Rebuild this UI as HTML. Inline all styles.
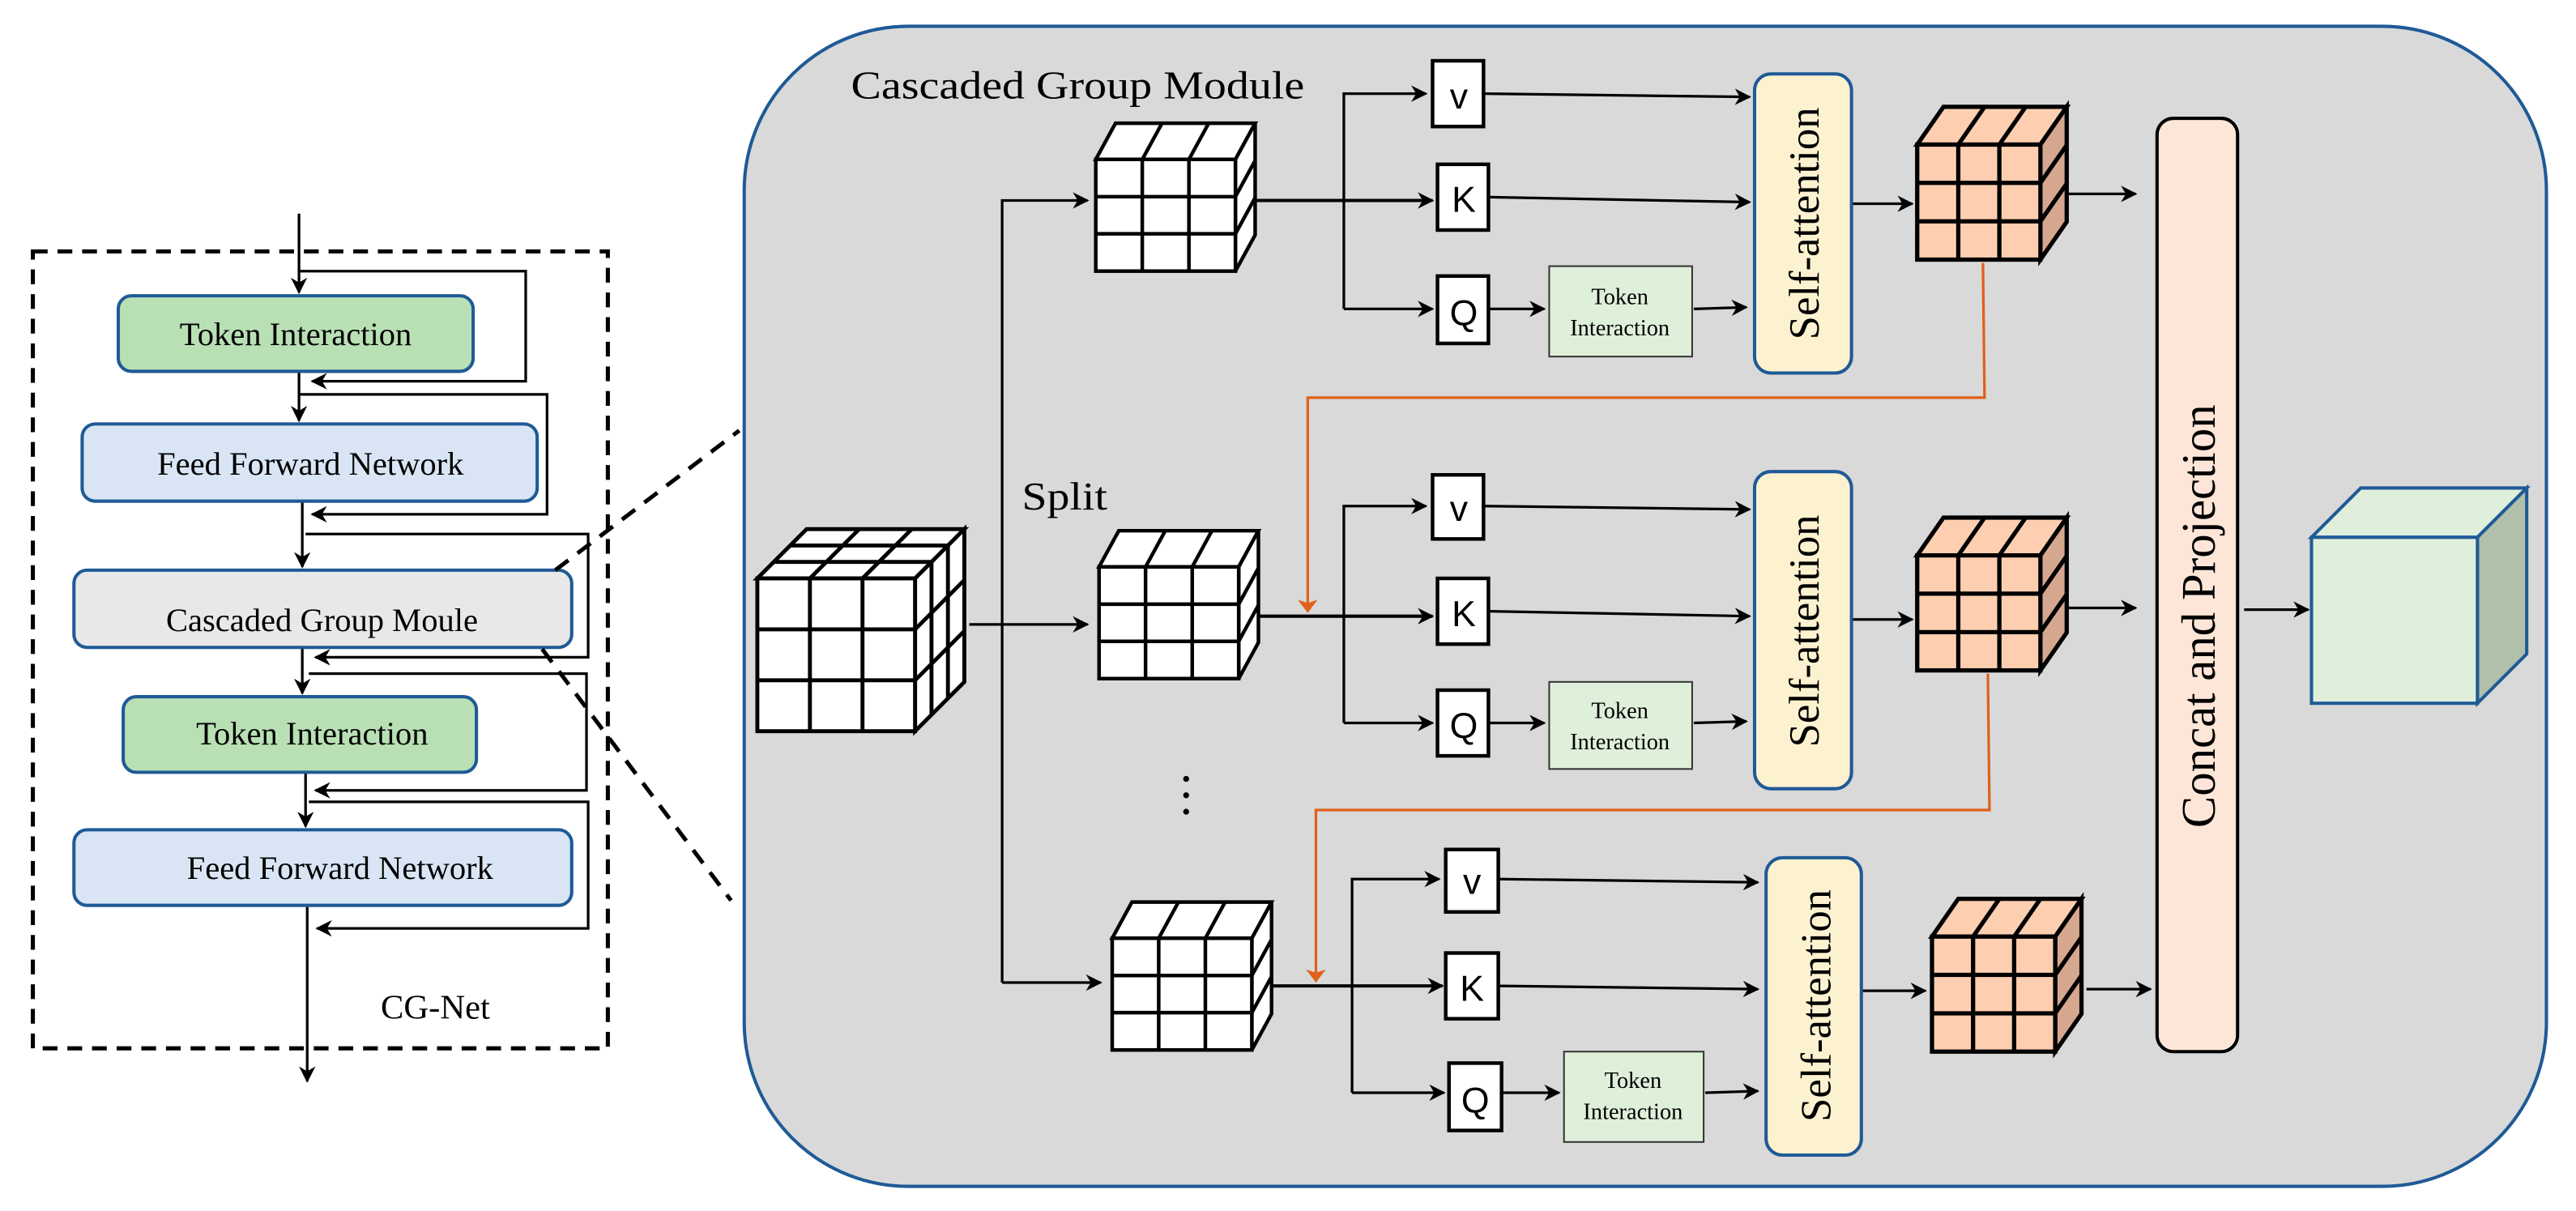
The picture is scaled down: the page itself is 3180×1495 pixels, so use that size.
<!DOCTYPE html>
<html><head><meta charset="utf-8"><style>
html,body{margin:0;padding:0;background:#fff}
svg{display:block}
.s{font-family:"Liberation Serif","Times New Roman",serif}
.ss{font-family:"Liberation Sans",Arial,sans-serif}
</style></head><body>
<svg width="3180" height="1495" viewBox="0 0 1568 737" preserveAspectRatio="none" xmlns="http://www.w3.org/2000/svg" font-family="Liberation Serif, serif">
<defs>
<marker id="a" markerWidth="10" markerHeight="10" refX="9" refY="5" orient="auto" markerUnits="userSpaceOnUse"><path d="M0,0 L10,5 L0,10 L3,5 z" fill="#000"/></marker>
<marker id="ao" markerWidth="8" markerHeight="12" refX="7" refY="6" orient="auto" markerUnits="userSpaceOnUse"><path d="M0,0 L8,6 L0,12 L2,6 z" fill="#e0601a"/></marker>
<g id="wc" stroke="#000" stroke-width="2.2" fill="#fff">
<polygon points="0,0 12,-22 97,-22 85,0"/>
<polygon points="85,0 97,-22 97,46 85,68"/>
<rect x="0" y="0" width="85" height="68"/>
<path d="M28.3,0V68M56.7,0V68M0,22.7H85M0,45.3H85M28.3,0L40.3,-22M56.7,0L68.7,-22M85,22.7L97,0.7M85,45.3L97,23.3" fill="none"/>
</g>
<g id="oc" stroke="#000" stroke-width="2.6">
<polygon points="0,0 16,-23 91,-23 75,0" fill="#fdcfb0"/>
<polygon points="75,0 91,-23 91,47 75,70" fill="#d6a78f"/>
<rect x="0" y="0" width="75" height="70" fill="#fdcfb0"/>
<path d="M25,0V70M50,0V70M0,23.3H75M0,46.7H75M25,0L41,-23M50,0L66,-23M75,23.3L91,0.3M75,46.7L91,23.7" fill="none"/>
</g>
</defs>

<!-- Left panel -->
<rect x="20" y="153" width="350" height="485" fill="none" stroke="#000" stroke-width="2.5" stroke-dasharray="9,6"/>
<g stroke="#000" stroke-width="1.6" fill="none">
<line x1="182" y1="130" x2="182" y2="178" marker-end="url(#a)"/>
<polyline points="182,165 320,165 320,232 190,232" marker-end="url(#a)"/>
<line x1="182" y1="226" x2="182" y2="256" marker-end="url(#a)"/>
<polyline points="182,240 333,240 333,313 190,313" marker-end="url(#a)"/>
<line x1="184" y1="305" x2="184" y2="345" marker-end="url(#a)"/>
<polyline points="186,325 358,325 358,400 192,400" marker-end="url(#a)"/>
<line x1="184" y1="394" x2="184" y2="422" marker-end="url(#a)"/>
<polyline points="188,410 357,410 357,481 192,481" marker-end="url(#a)"/>
<line x1="186" y1="470" x2="186" y2="503" marker-end="url(#a)"/>
<polyline points="188,488 358,488 358,565 193,565" marker-end="url(#a)"/>
<line x1="187" y1="551" x2="187" y2="658" marker-end="url(#a)"/>
</g>
<rect x="72" y="180" width="216" height="46" rx="8" fill="#b9e0b5" stroke="#1f5a96" stroke-width="2"/>
<rect x="50" y="258" width="277" height="47" rx="8" fill="#d9e5f4" stroke="#1f5a96" stroke-width="2"/>
<rect x="45" y="347" width="303" height="47" rx="8" fill="#e8e8e8" stroke="#1f5a96" stroke-width="2"/>
<rect x="75" y="424" width="215" height="46" rx="8" fill="#b9e0b5" stroke="#1f5a96" stroke-width="2"/>
<rect x="45" y="505" width="303" height="46" rx="8" fill="#d9e5f4" stroke="#1f5a96" stroke-width="2"/>
<g class="s" font-family="Liberation Serif, serif" font-size="20" text-anchor="middle" fill="#000">
<text x="180" y="210">Token Interaction</text>
<text x="189" y="289">Feed Forward Network</text>
<text x="196" y="384">Cascaded Group Moule</text>
<text x="190" y="453">Token Interaction</text>
<text x="207" y="535">Feed Forward Network</text>
<text x="265" y="620" font-size="21">CG-Net</text>
</g>

<!-- zoom lines -->
<g stroke="#000" stroke-width="2.5" stroke-dasharray="10,7">
<line x1="338" y1="347" x2="450" y2="262"/>
<line x1="330" y1="395" x2="445" y2="548"/>
</g>

<!-- main module -->
<rect x="453" y="16" width="1097" height="706" rx="100" fill="#d9d9d9" stroke="#1f5a96" stroke-width="2"/>
<g class="s" font-family="Liberation Serif, serif" fill="#000">
<text x="518" y="60" font-size="24" textLength="276" lengthAdjust="spacingAndGlyphs">Cascaded Group Module</text>
<text x="622" y="310" font-size="24" textLength="52" lengthAdjust="spacingAndGlyphs">Split</text>
</g>
<g fill="#000"><circle cx="722" cy="474" r="1.8"/><circle cx="722" cy="484" r="1.8"/><circle cx="722" cy="494" r="1.8"/></g>

<!-- big cube -->
<g stroke="#000" stroke-width="2.4" fill="#fff">
<polygon points="461,352 491,322 587,322 557,352"/>
<polygon points="557,352 587,322 587,415 557,445"/>
<rect x="461" y="352" width="96" height="93"/>
<path d="M493,352V445M525,352V445M461,383H557M461,414H557 M471,342H567M481,332H577 M493,352L523,322M525,352L555,322 M567,342V435M577,332V425 M557,383L587,353M557,414L587,384" fill="none"/>
</g>

<use href="#wc" x="667" y="97"/>
<use href="#wc" x="669" y="345"/>
<use href="#wc" x="677" y="571"/>

<use href="#oc" x="1167" y="88"/>
<use href="#oc" x="1167" y="338"/>
<use href="#oc" x="1176" y="570"/>

<g stroke="#000" stroke-width="1.6" fill="none">
<polyline points="610,598 610,122 662,122" marker-end="url(#a)"/>
<line x1="610" y1="598" x2="670" y2="598" marker-end="url(#a)"/>
<line x1="590" y1="380" x2="662" y2="380" marker-end="url(#a)"/>
<line x1="764" y1="122" x2="872" y2="122" marker-end="url(#a)" stroke-width="2"/>
<polyline points="818,188 818,57 868,57" marker-end="url(#a)"/>
<line x1="818" y1="188" x2="872" y2="188" marker-end="url(#a)"/>
<line x1="766" y1="375" x2="872" y2="375" marker-end="url(#a)" stroke-width="2"/>
<polyline points="818,440 818,308 868,308" marker-end="url(#a)"/>
<line x1="818" y1="440" x2="872" y2="440" marker-end="url(#a)"/>
<line x1="774" y1="600" x2="878" y2="600" marker-end="url(#a)" stroke-width="2"/>
<polyline points="823,665 823,535 876,535" marker-end="url(#a)"/>
<line x1="823" y1="665" x2="879" y2="665" marker-end="url(#a)"/>
<line x1="904" y1="57" x2="1065" y2="59" marker-end="url(#a)"/>
<line x1="907" y1="120" x2="1065" y2="123" marker-end="url(#a)"/>
<line x1="907" y1="188" x2="940" y2="188" marker-end="url(#a)"/>
<line x1="1031" y1="188" x2="1063" y2="187" marker-end="url(#a)"/>
<line x1="904" y1="308" x2="1065" y2="310" marker-end="url(#a)"/>
<line x1="907" y1="372" x2="1065" y2="375" marker-end="url(#a)"/>
<line x1="907" y1="440" x2="940" y2="440" marker-end="url(#a)"/>
<line x1="1031" y1="440" x2="1063" y2="439" marker-end="url(#a)"/>
<line x1="913" y1="535" x2="1070" y2="537" marker-end="url(#a)"/>
<line x1="913" y1="600" x2="1070" y2="602" marker-end="url(#a)"/>
<line x1="915" y1="665" x2="949" y2="665" marker-end="url(#a)"/>
<line x1="1038" y1="665" x2="1070" y2="664" marker-end="url(#a)"/>
<line x1="1127" y1="124" x2="1164" y2="124" marker-end="url(#a)"/>
<line x1="1258" y1="118" x2="1300" y2="118" marker-end="url(#a)"/>
<line x1="1127" y1="377" x2="1164" y2="377" marker-end="url(#a)"/>
<line x1="1258" y1="370" x2="1300" y2="370" marker-end="url(#a)"/>
<line x1="1133" y1="603" x2="1172" y2="603" marker-end="url(#a)"/>
<line x1="1270" y1="602" x2="1309" y2="602" marker-end="url(#a)"/>
<line x1="1366" y1="371" x2="1405" y2="371" marker-end="url(#a)"/>
</g>
<g stroke="#e0601a" stroke-width="1.6" fill="none">
<polyline points="1207,160 1208,242 796,242 796,372" marker-end="url(#ao)"/>
<polyline points="1210,410 1211,493 801,493 801,597" marker-end="url(#ao)"/>
</g>

<g fill="#fff" stroke="#000" stroke-width="2.2">
<rect x="872" y="37" width="31" height="40"/><rect x="875" y="100" width="31" height="40"/><rect x="875" y="168" width="31" height="41"/>
<rect x="872" y="289" width="31" height="39"/><rect x="875" y="352" width="31" height="40"/><rect x="875" y="420" width="31" height="40"/>
<rect x="880" y="517" width="32" height="38"/><rect x="880" y="580" width="32" height="40"/><rect x="882" y="647" width="32" height="41"/>
</g>
<g class="ss" font-family="Liberation Sans, sans-serif" font-size="22" text-anchor="middle" fill="#000">
<text x="888" y="66">v</text><text x="891" y="129">K</text><text x="891" y="198">Q</text>
<text x="888" y="317">v</text><text x="891" y="381">K</text><text x="891" y="449">Q</text>
<text x="896" y="544">v</text><text x="896" y="609">K</text><text x="898" y="677">Q</text>
</g>

<g fill="#dff0da" stroke="#333" stroke-width="1">
<rect x="943" y="162" width="87" height="55"/><rect x="943" y="415" width="87" height="53"/><rect x="952" y="640" width="85" height="55"/>
</g>
<g class="s" font-family="Liberation Serif, serif" font-size="14" text-anchor="middle" fill="#000">
<text x="986" y="185">Token</text><text x="986" y="204">Interaction</text>
<text x="986" y="437">Token</text><text x="986" y="456">Interaction</text>
<text x="994" y="662">Token</text><text x="994" y="681">Interaction</text>
</g>

<g fill="#fdf2d0" stroke="#1f5a96" stroke-width="2">
<rect x="1068" y="45" width="59" height="182" rx="10"/>
<rect x="1068" y="287" width="59" height="193" rx="10"/>
<rect x="1075" y="522" width="58" height="181" rx="10"/>
</g>
<g class="s" font-family="Liberation Serif, serif" font-size="26" text-anchor="middle" fill="#000">
<text transform="translate(1107,136) rotate(-90)">Self-attention</text>
<text transform="translate(1107,384) rotate(-90)">Self-attention</text>
<text transform="translate(1114,612) rotate(-90)">Self-attention</text>
</g>

<rect x="1313" y="72" width="49" height="568" rx="10" fill="#fde6d8" stroke="#000" stroke-width="2"/>
<text class="s" font-family="Liberation Serif, serif" transform="translate(1348,375) rotate(-90)" font-size="29" text-anchor="middle" fill="#000">Concat and Projection</text>

<g stroke="#1f5a96" stroke-width="2">
<polygon points="1407,327 1437,297 1538,297 1508,327" fill="#e0efdc"/>
<polygon points="1508,327 1538,297 1538,398 1508,428" fill="#b0c0ab"/>
<rect x="1407" y="327" width="101" height="101" fill="#e0efdc"/>
</g>
</svg>
</body></html>
